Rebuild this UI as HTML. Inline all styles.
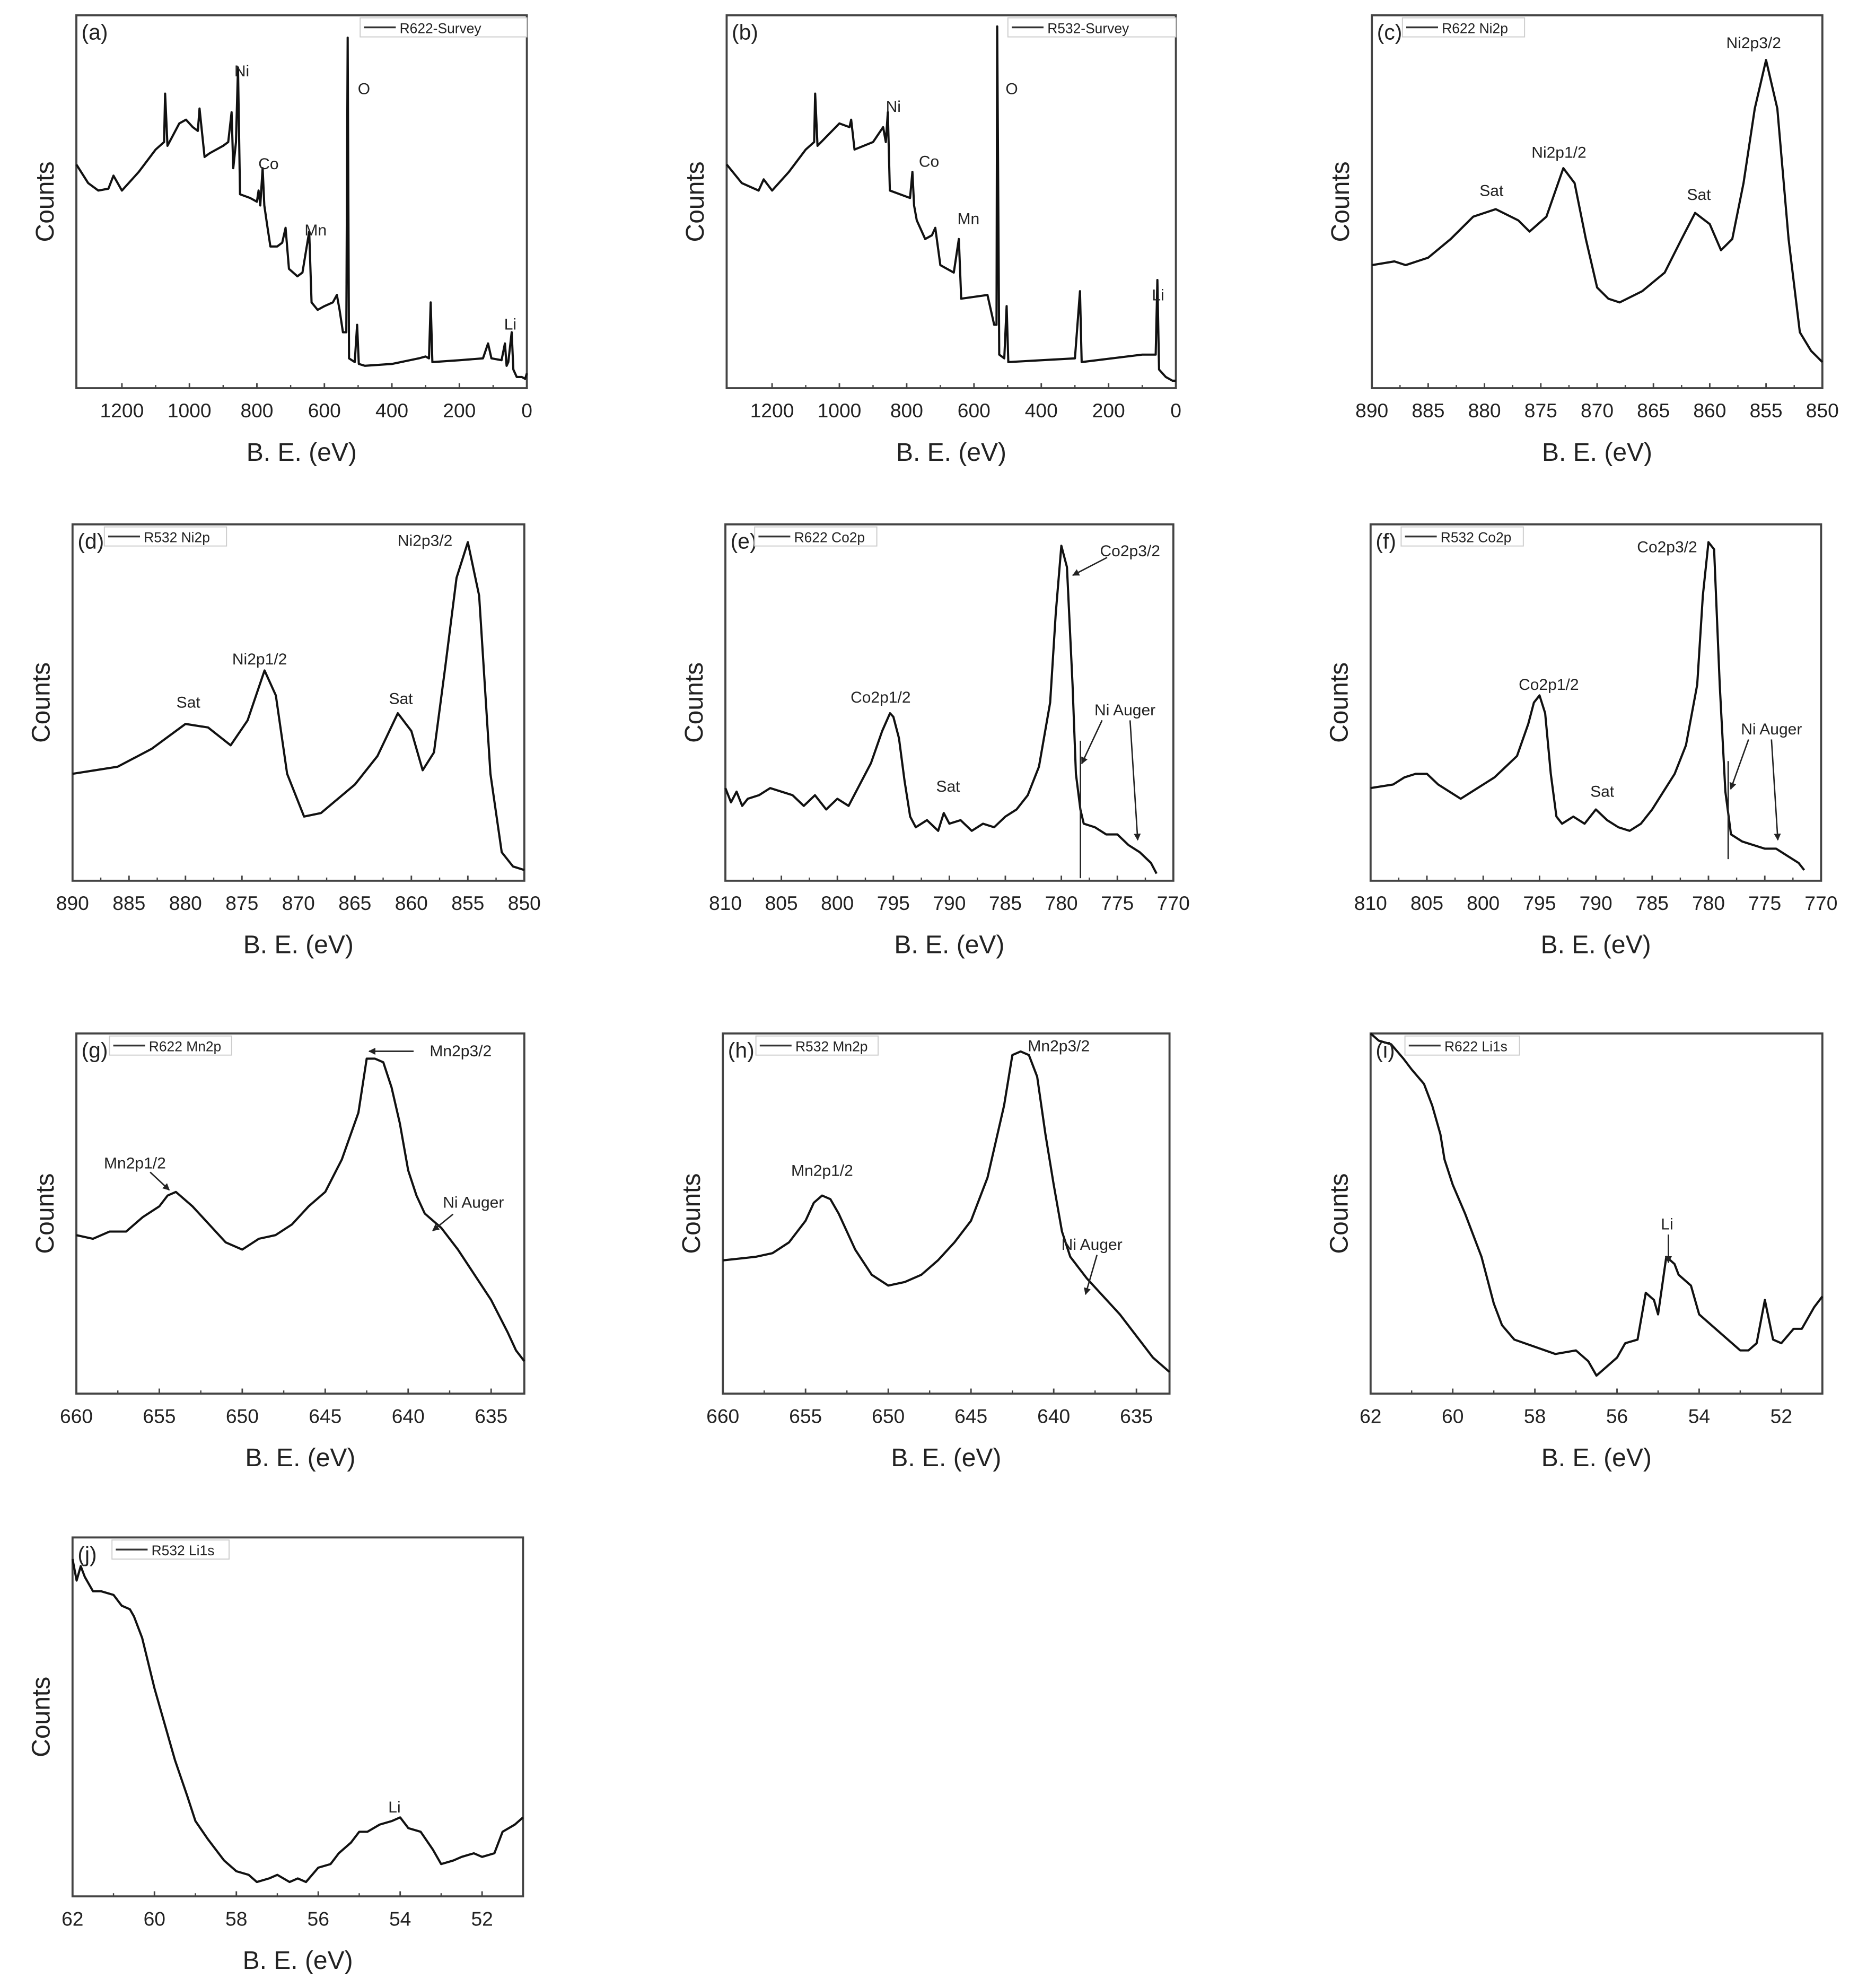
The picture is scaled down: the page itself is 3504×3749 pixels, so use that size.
<!DOCTYPE html>
<html><head><meta charset="utf-8">
<style>
html,body{margin:0;padding:0;background:#fff;}
svg{display:block;}
text{font-family:"Liberation Sans",Arial,sans-serif;fill:#222;}
</style></head>
<body>
<svg id="fig" width="3504" height="3749" viewBox="0 0 1460 1562" preserveAspectRatio="none" xmlns="http://www.w3.org/2000/svg">
<defs><marker id="ah" viewBox="0 0 10 10" refX="9" refY="5" markerWidth="5" markerHeight="5" orient="auto"><path d="M0,0L10,5L0,10z" fill="#222"/></marker></defs>
</svg>
<script>
// ---------- data (x in eV, y in normalized counts) ----------
const aX=[1335,1300,1270,1240,1225,1200,1150,1100,1075,1072,1065,1030,1010,990,975,970,955,940,900,885,875,870,862,856,850,820,800,795,790,783,778,770,760,740,725,715,705,680,665,645,638,620,600,575,563,555,545,535,531,527,510,503,498,480,400,320,300,290,285,280,200,130,115,105,75,65,60,55,45,40,30,15,5,0];
const aY=[0.60,0.55,0.53,0.535,0.57,0.53,0.58,0.64,0.66,0.79,0.65,0.71,0.72,0.70,0.69,0.75,0.62,0.63,0.65,0.66,0.74,0.59,0.66,0.86,0.52,0.51,0.50,0.53,0.49,0.59,0.49,0.44,0.38,0.38,0.39,0.43,0.32,0.30,0.31,0.42,0.23,0.21,0.22,0.23,0.25,0.21,0.15,0.15,0.94,0.08,0.07,0.17,0.065,0.06,0.065,0.08,0.085,0.08,0.23,0.07,0.075,0.08,0.12,0.08,0.075,0.12,0.06,0.07,0.15,0.05,0.03,0.03,0.025,0.04];
const bX=[1335,1290,1240,1225,1200,1150,1100,1075,1072,1065,1000,970,965,955,900,870,862,856,850,790,783,778,770,745,725,715,700,660,645,638,560,540,533,531,525,510,503,498,400,300,285,280,100,60,55,50,30,10,0];
const bY=[0.60,0.55,0.53,0.56,0.53,0.58,0.64,0.66,0.79,0.65,0.71,0.70,0.72,0.64,0.66,0.70,0.66,0.74,0.53,0.51,0.58,0.49,0.45,0.40,0.41,0.43,0.33,0.31,0.40,0.24,0.25,0.17,0.17,0.97,0.09,0.08,0.22,0.07,0.075,0.08,0.26,0.07,0.09,0.09,0.29,0.05,0.03,0.02,0.02];
const cX=[890,888,887,885,883,881,879,877,876,874.5,873,872,871,870,869,868,866,864,862.5,861.3,860,859,858,857,856,855,854,853,852,851,850];
const cY=[0.33,0.34,0.33,0.35,0.40,0.46,0.48,0.45,0.42,0.46,0.59,0.55,0.40,0.27,0.24,0.23,0.26,0.31,0.40,0.47,0.44,0.37,0.40,0.55,0.75,0.88,0.75,0.40,0.15,0.10,0.07];
const dX=[890,888,886,883,880,878,876,874.5,873,872,871,869.5,868,865,863,861.2,860,859,858,857,856,855,854,853,852,851,850];
const dY=[0.30,0.31,0.32,0.37,0.44,0.43,0.38,0.45,0.59,0.52,0.30,0.18,0.19,0.27,0.35,0.47,0.42,0.31,0.36,0.60,0.85,0.95,0.80,0.30,0.08,0.04,0.03];
const eX=[810,809.5,809,808.5,808,807,806,805,804,803,802,801,800,799,798,797,796,795.3,795,794.5,794,793.5,793,792,791,790.5,790,789,788,787,786,785,784,783,782,781,780.5,780,779.5,779,778.7,778.3,778,777,776,775,774,773,772,771.5];
const eY=[0.26,0.22,0.25,0.21,0.23,0.24,0.26,0.25,0.24,0.21,0.24,0.20,0.23,0.21,0.27,0.33,0.42,0.47,0.46,0.40,0.28,0.18,0.15,0.17,0.14,0.19,0.16,0.17,0.14,0.16,0.15,0.18,0.20,0.24,0.32,0.50,0.75,0.94,0.88,0.55,0.30,0.20,0.16,0.15,0.13,0.13,0.10,0.08,0.05,0.02];
const fX=[810,808,807,806,805,804,803,802,801,800,799,798,797,796,795.5,795,794.5,794,793.5,793,792,791,790,789,788,787,786,785,784,783,782,781,780.5,780,779.5,779,778.5,778,777,776,775,774,773,772,771.5];
const fY=[0.26,0.27,0.29,0.30,0.30,0.27,0.25,0.23,0.25,0.27,0.29,0.32,0.35,0.44,0.50,0.52,0.47,0.30,0.18,0.16,0.18,0.16,0.20,0.17,0.15,0.14,0.16,0.20,0.25,0.30,0.38,0.55,0.80,0.95,0.93,0.55,0.25,0.13,0.11,0.10,0.09,0.09,0.07,0.05,0.03];
const gX=[660,659,658,657,656,655,654.5,654,653,652,651,650,649,648,647,646,645,644,643,642.5,642,641.5,641,640.5,640,639.5,639,638,637,636,635,634,633.5,633];
const gY=[0.44,0.43,0.45,0.45,0.49,0.52,0.55,0.56,0.52,0.47,0.42,0.40,0.43,0.44,0.47,0.52,0.56,0.65,0.78,0.93,0.93,0.92,0.85,0.75,0.62,0.55,0.50,0.46,0.40,0.33,0.26,0.17,0.12,0.09];
const hX=[660,658,657,656,655,654.5,654,653.5,653,652,651,650,649,648,647,646,645,644,643,642.5,642,641.5,641,640.5,640,639.5,639,638,637,636,635,634,633];
const hY=[0.37,0.38,0.39,0.42,0.48,0.53,0.55,0.54,0.50,0.40,0.33,0.30,0.31,0.33,0.37,0.42,0.48,0.60,0.80,0.94,0.95,0.94,0.88,0.72,0.58,0.45,0.38,0.32,0.27,0.22,0.16,0.10,0.06];
const iX=[62,61.8,61.5,61.2,61,60.7,60.5,60.3,60.2,60,59.7,59.5,59.3,59,58.8,58.5,58,57.5,57,56.7,56.5,56.2,56,55.8,55.5,55.3,55.1,55,54.8,54.6,54.5,54.2,54,53.5,53,52.8,52.6,52.4,52.2,52,51.7,51.5,51.2,51];
const iY=[1.0,0.98,0.97,0.93,0.90,0.86,0.80,0.72,0.65,0.58,0.50,0.44,0.38,0.25,0.19,0.15,0.13,0.11,0.12,0.09,0.05,0.08,0.10,0.14,0.15,0.28,0.26,0.22,0.38,0.36,0.33,0.30,0.22,0.17,0.12,0.12,0.14,0.26,0.15,0.14,0.18,0.18,0.24,0.27];
const jX=[62,61.9,61.8,61.7,61.5,61.3,61,60.8,60.6,60.5,60.3,60,59.7,59.5,59.2,59,58.7,58.3,58,57.7,57.5,57.2,57,56.7,56.5,56.3,56,55.7,55.5,55.2,55,54.8,54.5,54.2,54,53.8,53.5,53.2,53,52.7,52.5,52.2,52,51.7,51.5,51.2,51];
const jY=[0.94,0.88,0.92,0.89,0.85,0.85,0.84,0.81,0.80,0.78,0.72,0.58,0.46,0.38,0.28,0.21,0.16,0.10,0.07,0.06,0.04,0.05,0.06,0.04,0.05,0.04,0.08,0.09,0.12,0.15,0.18,0.18,0.20,0.21,0.22,0.19,0.18,0.13,0.09,0.10,0.11,0.12,0.11,0.12,0.18,0.20,0.22];

// tick labels
const ticksSurvey=[1200,1000,800,600,400,200,0];
const ticksNi=[890,885,880,875,870,865,860,855,850];
const ticksCo=[810,805,800,795,790,785,780,775,770];
const ticksMn=[660,655,650,645,640,635];
const ticksLi=[62,60,58,56,54,52];

const NS="http://www.w3.org/2000/svg";
const svg=document.getElementById('fig');
function mk(tag,attrs,parent){const e=document.createElementNS(NS,tag);for(const k in attrs)e.setAttribute(k,attrs[k]);(parent||svg).appendChild(e);return e;}

function panel(p){
  const g=mk('g',{});
  
  
  const sx=v=>p.x0+(p.xmax-v)/(p.xmax-p.xmin)*(p.x1-p.x0);
  const sy=v=>p.y1-v*(p.y1-p.y0);
  const fr=mk('rect',{x:p.x0,y:p.y0,width:p.x1-p.x0,height:p.y1-p.y0,fill:'none',stroke:'#444','stroke-width':1.6},g);
  
  
  p.ticks.forEach(t=>{
    const x=sx(t);
    mk('line',{x1:x,x2:x,y1:p.y1,y2:p.y1-4,stroke:'#444','stroke-width':1.2},g);
    const tl=mk('text',{x:x,y:p.y1+23,'font-size':15.5,'text-anchor':'middle'},g);
    tl.textContent=t;
    
    
  });
  for(let i=0;i<p.ticks.length-1;i++){
    const m=(p.ticks[i]+p.ticks[i+1])/2;
    if(m>=p.xmin&&m<=p.xmax){const x=sx(m);mk('line',{x1:x,x2:x,y1:p.y1,y2:p.y1-2.5,stroke:'#444','stroke-width':1},g);}
  }
  const path=p.X.map((v,i)=>(i?'L':'M')+sx(v).toFixed(2)+','+sy(p.Y[i]).toFixed(2)).join('');
  const ln=mk('path',{d:path,fill:'none',stroke:'#111','stroke-width':1.7,'stroke-linejoin':'round'},g);
  
  
  const xl=mk('text',{x:(p.x0+p.x1)/2,y:p.y1+57,'font-size':20,'text-anchor':'middle'},g);
  xl.textContent='B. E. (eV)';
  
  
  const cy=(p.y0+p.y1)/2;
  const yl=mk('text',{x:p.x0-18,y:cy,'font-size':20,'text-anchor':'middle',transform:'rotate(-90 '+(p.x0-18)+' '+cy+')'},g);
  yl.textContent='Counts';
  
  
  const lt=mk('text',{x:p.x0+4,y:p.y0+19,'font-size':17},g);
  lt.textContent='('+p.id+')';
  
  
  const lg=mk('g',{},g);
  
  
  mk('rect',{x:p.lx,y:p.y0+2,width:p.lw,height:15,fill:'#fff',stroke:'#ccc','stroke-width':0.8},lg);
  mk('line',{x1:p.lx+3,x2:p.lx+28,y1:p.y0+9.5,y2:p.y0+9.5,stroke:'#333','stroke-width':1.4},lg);
  const ltx=mk('text',{x:p.lx+31,y:p.y0+14,'font-size':11},lg);
  ltx.textContent=p.leg;
  p.ann.forEach(a=>{
    const t=mk('text',{x:a[1],y:a[2],'font-size':12.5,'text-anchor':'middle'},g);
    t.textContent=a[0];
    
    
  });
  (p.arr||[]).forEach(a=>{
    const l=mk('line',{x1:a[0],y1:a[1],x2:a[2],y2:a[3],stroke:'#222','stroke-width':1.1,'marker-end':a[4]===0?'':'url(#ah)'},g);
    
    
  });
}

const R1=[12,305],R2=[412,692],R3=[812,1095],R4=[1208,1490];
panel({id:'a',x0:60,x1:414,y0:R1[0],y1:R1[1],xmin:0,xmax:1335,ticks:ticksSurvey,X:aX,Y:aY,lx:283,lw:131,leg:'R622-Survey',
  ann:[['Ni',190,60],['Co',211,133],['Mn',248,185],['O',286,74],['Li',401,259]]});
panel({id:'b',x0:571,x1:924,y0:R1[0],y1:R1[1],xmin:0,xmax:1335,ticks:ticksSurvey,X:bX,Y:bY,lx:792,lw:132,leg:'R532-Survey',
  ann:[['Ni',702,88],['Co',730,131],['Mn',761,176],['O',795,74],['Li',910,236]]});
panel({id:'c',x0:1078,x1:1432,y0:R1[0],y1:R1[1],xmin:850,xmax:890,ticks:ticksNi,X:cX,Y:cY,lx:1102,lw:96,leg:'R622 Ni2p',
  ann:[['Sat',1172,154],['Ni2p1/2',1225,124],['Sat',1335,157],['Ni2p3/2',1378,38]]});
panel({id:'d',x0:57,x1:412,y0:R2[0],y1:R2[1],xmin:850,xmax:890,ticks:ticksNi,X:dX,Y:dY,lx:82,lw:96,leg:'R532 Ni2p',
  ann:[['Sat',148,556],['Ni2p1/2',204,522],['Sat',315,553],['Ni2p3/2',334,429]]});
panel({id:'e',x0:570,x1:922,y0:R2[0],y1:R2[1],xmin:770,xmax:810,ticks:ticksCo,X:eX,Y:eY,lx:593,lw:96,leg:'R622 Co2p',
  ann:[['Co2p1/2',692,552],['Sat',745,622],['Co2p3/2',888,437],['Ni Auger',884,562]],
  arr:[[870,438,843,452],[866,566,850,600],[888,566,894,660],[849,582,849,690,0]]});
panel({id:'f',x0:1077,x1:1431,y0:R2[0],y1:R2[1],xmin:770,xmax:810,ticks:ticksCo,X:fX,Y:fY,lx:1101,lw:96,leg:'R532 Co2p',
  ann:[['Co2p1/2',1217,542],['Sat',1259,626],['Co2p3/2',1310,434],['Ni Auger',1392,577]],
  arr:[[1374,581,1360,620],[1392,581,1397,660],[1358,598,1358,675,0]]});
panel({id:'g',x0:60,x1:412,y0:R3[0],y1:R3[1],xmin:633,xmax:660,ticks:ticksMn,X:gX,Y:gY,lx:86,lw:96,leg:'R622 Mn2p',
  ann:[['Mn2p1/2',106,918],['Mn2p3/2',362,830],['Ni Auger',372,949]],
  arr:[[118,921,133,935],[325,826,290,826],[356,954,340,967]]});
panel({id:'h',x0:568,x1:919,y0:R3[0],y1:R3[1],xmin:633,xmax:660,ticks:ticksMn,X:hX,Y:hY,lx:594,lw:96,leg:'R532 Mn2p',
  ann:[['Mn2p1/2',646,924],['Mn2p3/2',832,826],['Ni Auger',858,982]],
  arr:[[862,986,853,1017]]});
panel({id:'i',x0:1077,x1:1432,y0:R3[0],y1:R3[1],xmin:51,xmax:62,ticks:ticksLi,X:iX,Y:iY,lx:1104,lw:90,leg:'R622 Li1s',
  ann:[['Li',1310,966]],arr:[[1311,970,1311,992]]});
panel({id:'j',x0:57,x1:411,y0:R4[0],y1:R4[1],xmin:51,xmax:62,ticks:ticksLi,X:jX,Y:jY,lx:88,lw:92,leg:'R532 Li1s',
  ann:[['Li',310,1424]]});
</script>
</body></html>
